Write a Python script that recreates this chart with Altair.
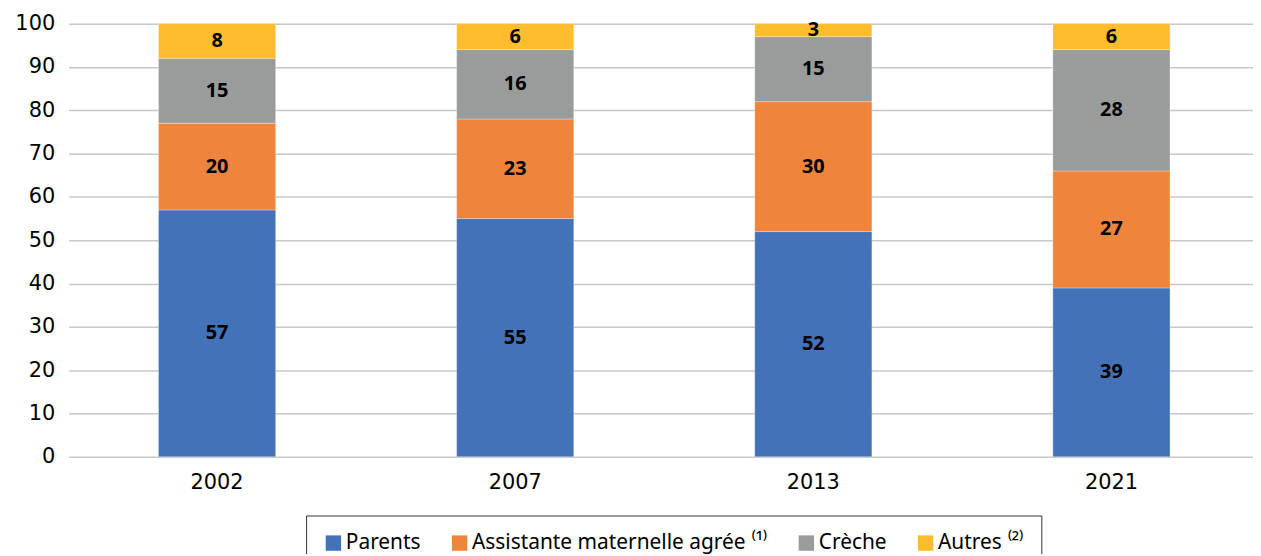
import altair as alt
import pandas as pd

years = ["2002", "2007", "2013", "2021"]
series = ["Parents", "Assistante maternelle agrée ⁽¹⁾", "Crèche", "Autres ⁽²⁾"]
parents = [57, 55, 52, 39]
assistante = [20, 23, 30, 27]
creche = [15, 16, 15, 28]
autres = [8, 6, 3, 6]
colors = ["#4472B8", "#EF843C", "#9A9C9C", "#FDBD2D"]

rows = []
for i, y in enumerate(years):
    for k, (s, vals) in enumerate(zip(series, [parents, assistante, creche, autres])):
        rows.append({"year": y, "series": s, "order": k, "value": vals[i]})
df = pd.DataFrame(rows)

FONT = "Noto Sans"
AXFONT = "DejaVu Sans"

base = alt.Chart(df).transform_stack(
    stack="value", groupby=["year"], as_=["y0", "y1"], sort=[alt.SortField("order", "ascending")]
).transform_calculate(mid="(datum.y0 + datum.y1) / 2")

xenc = alt.X(
    "year:N",
    title=None,
    sort=years,
    scale=alt.Scale(paddingInner=0.607, paddingOuter=0.29, align=0.52),
    axis=alt.Axis(labelAngle=0, labelFontSize=21, labelColor="#000", labelFont=AXFONT,
                  domain=False, ticks=False, labelPadding=15, grid=False),
)

bars = base.mark_bar(stroke="#ffffff", strokeWidth=0.6, strokeOpacity=0.5).encode(
    x=xenc,
    y=alt.Y("y0:Q", title=None,
            scale=alt.Scale(domain=[0, 100], nice=False),
            axis=alt.Axis(values=list(range(0, 101, 10)), labelFontSize=21, labelColor="#000",
                          labelFont=AXFONT, domain=False, ticks=False, labelPadding=14,
                          gridColor="#C8C8C8", gridWidth=1.5)),
    y2="y1:Q",
    color=alt.Color("series:N", sort=series,
                    scale=alt.Scale(domain=series, range=colors),
                    legend=alt.Legend(title=None, orient="none", legendX=239, legendY=495,
                                      direction="horizontal", columns=4,
                                      symbolType="square", symbolSize=240,
                                      symbolStrokeWidth=0,
                                      labelFontSize=21, labelFont=FONT, labelColor="#000",
                                      labelLimit=400, labelOffset=2,
                                      columnPadding=28, symbolOffset=0,
                                      strokeColor="#333333", padding=17,
                                      cornerRadius=0)),
    order=alt.Order("order:Q"),
)

labels = base.mark_text(fontSize=20, fontWeight="bold", font=FONT, color="#000").encode(
    x=alt.X("year:N", sort=years),
    y=alt.Y("mid:Q"),
    text=alt.Text("value:Q"),
)

chart = alt.layer(bars, labels).properties(
    width=1192, height=436,
    autosize=alt.AutoSizeParams(type="none"),
    padding={"left": 61, "top": 14, "right": 0, "bottom": 96},
).configure_view(stroke=None)

chart.save("out.html", embed_options={"renderer": "svg", "actions": False})
